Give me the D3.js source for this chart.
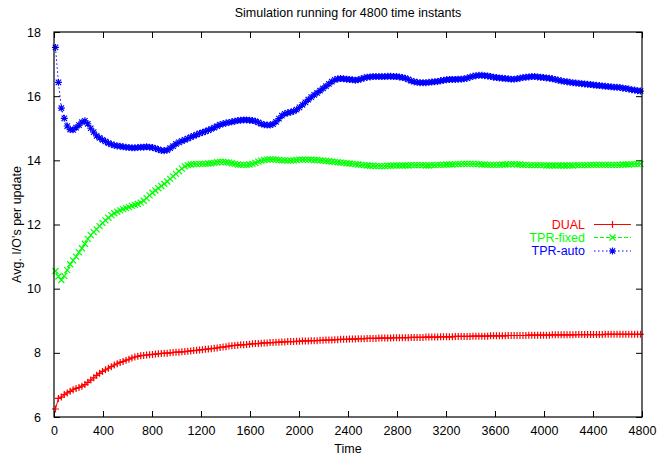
<!DOCTYPE html>
<html><head><meta charset="utf-8">
<script src="https://cdn.jsdelivr.net/npm/d3@7"></script>
<style>body{margin:0;background:#fff}svg{display:block}text{font-family:"Liberation Sans",Arial,Helvetica,sans-serif}</style>
</head><body><svg id="c" width="669" height="456"></svg>
<script>
const title = "Simulation running for 4800 time instants";
const xLabel = "Time";
const yLabel = "Avg. I/O's per update";
const xTicks = [0,400,800,1200,1600,2000,2400,2800,3200,3600,4000,4400,4800];
const yTicks = [6,8,10,12,14,16,18];
const seriesNames = ["DUAL","TPR-fixed","TPR-auto"];
// sample instants: every 24 time units starting at 12
const timeStart = 12, timeStep = 24;

const dual = [6.25,6.58,6.62,6.70,6.75,6.80,6.85,6.89,6.92,6.96,7.01,7.08,7.15,7.22,7.30,7.36,7.42,7.47,7.52,7.57,
7.62,7.66,7.70,7.73,7.77,7.80,7.84,7.87,7.89,7.91,7.92,7.93,7.94,7.95,7.96,7.97,7.98,7.99,7.99,8.00,
8.01,8.02,8.02,8.03,8.04,8.05,8.06,8.07,8.08,8.09,8.10,8.11,8.12,8.13,8.14,8.15,8.17,8.18,8.19,8.21,
8.22,8.23,8.24,8.25,8.25,8.26,8.27,8.28,8.29,8.29,8.30,8.31,8.31,8.32,8.32,8.33,8.33,8.34,8.34,8.35,
8.35,8.35,8.36,8.36,8.37,8.37,8.37,8.38,8.38,8.38,8.39,8.39,8.40,8.40,8.40,8.41,8.41,8.42,8.42,8.42,
8.43,8.43,8.43,8.44,8.44,8.44,8.45,8.45,8.45,8.45,8.46,8.46,8.46,8.46,8.46,8.47,8.47,8.47,8.47,8.47,
8.47,8.48,8.48,8.48,8.48,8.48,8.49,8.49,8.49,8.49,8.49,8.50,8.50,8.50,8.50,8.50,8.51,8.51,8.51,8.51,
8.51,8.51,8.52,8.52,8.52,8.52,8.52,8.52,8.53,8.53,8.53,8.53,8.53,8.53,8.54,8.54,8.54,8.54,8.54,8.54,
8.54,8.55,8.55,8.55,8.55,8.55,8.55,8.55,8.55,8.56,8.56,8.56,8.56,8.56,8.56,8.56,8.56,8.57,8.57,8.57,
8.57,8.57,8.57,8.57,8.57,8.57,8.57,8.58,8.58,8.58,8.58,8.58,8.58,8.58,8.58,8.58,8.58,8.58,8.58,8.58];

const tprFixed = [10.55,10.38,10.27,10.40,10.58,10.76,10.88,11.00,11.13,11.26,11.40,11.55,11.67,11.76,11.85,11.95,12.05,12.13,12.21,12.29,
12.35,12.40,12.44,12.48,12.51,12.54,12.58,12.61,12.64,12.68,12.74,12.82,12.91,12.99,13.06,13.13,13.20,13.27,13.34,13.42,
13.50,13.58,13.66,13.74,13.81,13.85,13.87,13.88,13.88,13.89,13.89,13.89,13.90,13.91,13.92,13.94,13.95,13.95,13.94,13.93,
13.91,13.89,13.87,13.86,13.86,13.86,13.87,13.89,13.92,13.96,13.99,14.01,14.02,14.03,14.03,14.02,14.01,14.00,14.00,13.99,
13.99,14.00,14.01,14.02,14.02,14.02,14.02,14.02,14.01,14.01,14.00,13.99,13.98,13.97,13.96,13.95,13.94,13.93,13.92,13.91,
13.90,13.89,13.88,13.87,13.86,13.85,13.84,13.83,13.83,13.82,13.82,13.82,13.82,13.83,13.83,13.84,13.84,13.84,13.84,13.84,
13.84,13.85,13.85,13.85,13.85,13.85,13.84,13.84,13.85,13.85,13.86,13.86,13.86,13.87,13.87,13.87,13.88,13.88,13.88,13.89,
13.89,13.89,13.89,13.88,13.88,13.87,13.87,13.86,13.86,13.86,13.86,13.86,13.87,13.87,13.87,13.88,13.88,13.87,13.87,13.86,
13.86,13.85,13.85,13.85,13.85,13.85,13.85,13.84,13.84,13.84,13.84,13.84,13.84,13.84,13.84,13.84,13.84,13.85,13.85,13.85,
13.85,13.85,13.86,13.86,13.86,13.86,13.86,13.86,13.86,13.86,13.86,13.86,13.86,13.87,13.87,13.87,13.88,13.88,13.88,13.89];

const tprAuto = [17.52,16.43,15.63,15.31,15.07,14.96,14.95,15.02,15.10,15.19,15.23,15.14,15.00,14.88,14.76,14.70,14.64,14.59,14.54,14.50,
14.47,14.45,14.44,14.42,14.41,14.40,14.39,14.39,14.40,14.41,14.41,14.42,14.41,14.40,14.37,14.34,14.31,14.30,14.32,14.38,
14.44,14.51,14.56,14.60,14.64,14.68,14.72,14.76,14.80,14.84,14.87,14.90,14.94,14.98,15.02,15.07,15.11,15.14,15.16,15.18,
15.20,15.22,15.24,15.25,15.26,15.26,15.25,15.24,15.22,15.18,15.14,15.11,15.10,15.10,15.13,15.20,15.30,15.39,15.45,15.48,
15.50,15.53,15.58,15.65,15.73,15.81,15.89,15.97,16.04,16.10,16.17,16.24,16.31,16.38,16.45,16.51,16.54,16.55,16.54,16.53,
16.52,16.51,16.50,16.51,16.54,16.57,16.59,16.60,16.61,16.61,16.61,16.61,16.61,16.62,16.62,16.61,16.61,16.60,16.58,16.56,
16.52,16.48,16.45,16.43,16.42,16.42,16.42,16.43,16.44,16.45,16.46,16.48,16.50,16.51,16.52,16.52,16.52,16.53,16.53,16.54,
16.56,16.59,16.62,16.64,16.65,16.65,16.64,16.63,16.61,16.59,16.58,16.57,16.56,16.55,16.54,16.53,16.53,16.54,16.56,16.58,
16.59,16.60,16.61,16.61,16.60,16.59,16.58,16.57,16.56,16.54,16.52,16.50,16.48,16.46,16.45,16.43,16.42,16.41,16.40,16.39,
16.38,16.37,16.36,16.35,16.34,16.33,16.32,16.31,16.30,16.29,16.28,16.28,16.27,16.25,16.24,16.22,16.20,16.19,16.17,16.16];

const seriesColors = ["#ff0000","#00ff00","#0000ff"];
const seriesDash = [null,"4,2","1.5,2.5"];
const markerPaths = [
  "M-3.5,0H3.5M0,-3.5V3.5",
  "M-3,-3L3,3M-3,3L3,-3",
  "M-3.5,0H3.5M0,-3.5V3.5M-2.7,-2.7L2.7,2.7M-2.7,2.7L2.7,-2.7"
];

const svg = d3.select("#c");
const L=54, R=642, T=32, B=417;
const x = d3.scaleLinear().domain([0,4800]).range([L,R]);
const y = d3.scaleLinear().domain([6,18]).range([B,T]);

const allSeries = [dual,tprFixed,tprAuto].map((vals,i)=>({
  name:seriesNames[i], color:seriesColors[i], dash:seriesDash[i], marker:markerPaths[i],
  pts: vals.map((v,k)=>({t:timeStart+k*timeStep, v}))
}));

const tickLen = 6;
const axB = d3.axisBottom(x).tickValues(xTicks).tickSize(-tickLen).tickPadding(tickLen+3).tickFormat(d3.format("d"));
const axT = d3.axisTop(x).tickValues(xTicks).tickSize(-tickLen).tickFormat("");
const axLft = d3.axisLeft(y).tickValues(yTicks).tickSize(-tickLen).tickPadding(tickLen+7).tickFormat(d3.format("d"));
const axRt = d3.axisRight(y).tickValues(yTicks).tickSize(-tickLen).tickFormat("");
function styleAxis(g){g.select(".domain").remove();g.selectAll("line").attr("stroke","#000");g.selectAll("text").attr("fill","#000").style("font-size","12.5px").style("font-family",'"Liberation Sans",Arial,sans-serif');}
svg.append("g").attr("transform",`translate(0,${B})`).call(axB).call(styleAxis);
svg.append("g").attr("transform",`translate(0,${T})`).call(axT).call(styleAxis);
svg.append("g").attr("transform",`translate(${L},0)`).call(axLft).call(styleAxis);
svg.append("g").attr("transform",`translate(${R},0)`).call(axRt).call(styleAxis);

const legTextX=585, legLine=[594,631], legY=[224.5,237.5,251];
allSeries.forEach((s,i)=>{
  const g=svg.append("g");
  g.append("text").attr("x",legTextX).attr("y",legY[i]).attr("dy","0.35em").attr("text-anchor","end")
   .attr("fill",s.color).style("font-size","12.5px").text(s.name);
  g.append("line").attr("x1",legLine[0]).attr("x2",legLine[1]).attr("y1",legY[i]).attr("y2",legY[i])
   .attr("stroke",s.color).attr("stroke-width",1).attr("stroke-dasharray",s.dash);
  g.append("path").attr("d",s.marker).attr("transform",`translate(${(legLine[0]+legLine[1])/2},${legY[i]})`)
   .attr("stroke",s.color).attr("fill","none").attr("stroke-width",1.2);
});

const line = d3.line().x(d=>x(d.t)).y(d=>y(d.v));
allSeries.forEach(s=>{
  const g=svg.append("g");
  g.append("path").datum(s.pts).attr("d",line).attr("fill","none").attr("stroke",s.color)
   .attr("stroke-width",1).attr("stroke-dasharray",s.dash);
  g.selectAll("path.m").data(s.pts).join("path").attr("class","m").attr("d",s.marker)
   .attr("transform",d=>`translate(${x(d.t)},${y(d.v)})`).attr("stroke",s.color).attr("fill","none").attr("stroke-width",1.2);
});

svg.append("rect").attr("x",L).attr("y",T).attr("width",R-L).attr("height",B-T)
  .attr("fill","none").attr("stroke","#000").attr("stroke-width",1.2);

svg.append("text").attr("x",(L+R)/2).attr("y",13).attr("dy","0.35em").attr("text-anchor","middle")
  .style("font-size","12.5px").attr("fill","#000").text(title);
svg.append("text").attr("x",(L+R)/2).attr("y",449).attr("dy","0.35em").attr("text-anchor","middle")
  .style("font-size","12.5px").attr("fill","#000").text(xLabel);
svg.append("text").attr("transform",`translate(17,${(T+B)/2}) rotate(-90)`).attr("dy","0.35em").attr("text-anchor","middle")
  .style("font-size","12.5px").attr("fill","#000").text(yLabel);
</script></body></html>
